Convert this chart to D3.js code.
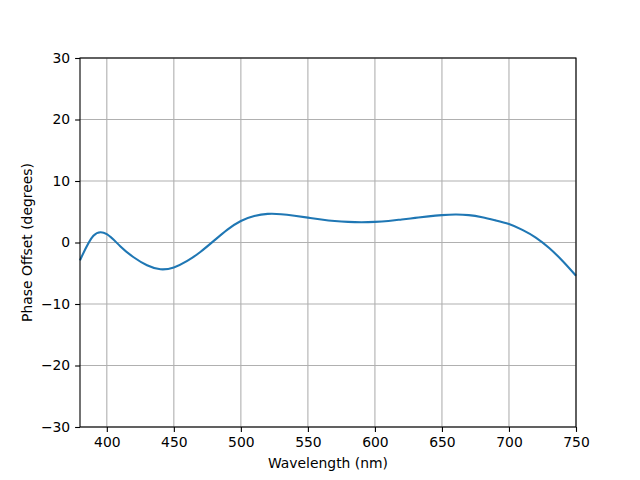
<!DOCTYPE html>
<html>
<head>
<meta charset="utf-8">
<script src="https://cdn.jsdelivr.net/npm/d3@7"></script>
<style>
  body { margin: 0; background: #fff; }
  text { font-family: "DejaVu Sans", sans-serif; }
</style>
</head>
<body>
<div id="chart"></div>
<script>
// wavelength (nm) and phase offset (degrees)
var wavelength = [380, 390, 400, 410, 420, 430, 440, 450, 460, 470, 480, 490,
                  500, 510, 520, 530, 540, 550, 560, 570, 580, 590, 600, 610, 620, 630,
                  640, 650, 660, 670, 680, 690, 700, 710, 720, 730, 740, 750];
var phase = [-2.9, 1.1, 1.35, -0.6, -2.4, -3.7, -4.35, -4.05, -3.0, -1.5, 0.3, 2.1,
             3.5, 4.3, 4.65, 4.6, 4.35, 4.05, 3.75, 3.5, 3.35, 3.3, 3.35, 3.5, 3.75, 4.0,
             4.25, 4.45, 4.55, 4.45, 4.1, 3.6, 3.0, 2.05, 0.8, -0.9, -3.0, -5.4];
var xTicks = [400, 450, 500, 550, 600, 650, 700, 750];
var yTicks = [-30, -20, -10, 0, 10, 20, 30];

var width = 640,
    height = 480;
var margin = {top: 58, right: 64, bottom: 53, left: 80};

var svg = d3.select('#chart').append('svg')
    .attr('width', width)
    .attr('height', height);

var x = d3.scaleLinear()
    .domain([380, 750])
    .range([margin.left, width - margin.right]);
var y = d3.scaleLinear()
    .domain([-30, 30])
    .range([height - margin.bottom, margin.top]);

// grid
svg.append('g').selectAll('line')
    .data(xTicks)
    .enter().append('line')
    .attr('x1', d => x(d)).attr('x2', d => x(d))
    .attr('y1', y(-30)).attr('y2', y(30))
    .style('stroke', '#b0b0b0')
    .style('stroke-width', 1.1);
svg.append('g').selectAll('line')
    .data(yTicks)
    .enter().append('line')
    .attr('x1', x(380)).attr('x2', x(750))
    .attr('y1', d => y(d)).attr('y2', d => y(d))
    .style('stroke', '#b0b0b0')
    .style('stroke-width', 1.1);

// curve
var data = wavelength.map((w, i) => [w, phase[i]]);
var line = d3.line()
    .x(d => x(d[0]))
    .y(d => y(d[1]))
    .curve(d3.curveNatural);

svg.append('path')
    .datum(data)
    .attr('d', line)
    .style('fill', 'none')
    .style('stroke', '#1f77b4')
    .style('stroke-width', 2.1);

// axes
var xAxis = svg.append('g')
    .attr('transform', 'translate(0,' + (height - margin.bottom) + ')')
    .call(d3.axisBottom(x).tickValues(xTicks).tickSize(4.9).tickPadding(4.9));
var yAxis = svg.append('g')
    .attr('transform', 'translate(' + margin.left + ',0)')
    .call(d3.axisLeft(y).tickValues(yTicks).tickSize(4.9).tickPadding(4.9));

[xAxis, yAxis].forEach(function(a) {
    a.selectAll('text')
        .style('font-family', '"DejaVu Sans", sans-serif')
        .style('font-size', '13.9px')
        .style('fill', '#000');
    a.selectAll('line').style('stroke', '#000').style('stroke-width', 1.1);
    a.select('.domain').remove();
});

// frame
svg.append('rect')
    .attr('x', x(380))
    .attr('y', y(30))
    .attr('width', x(750) - x(380))
    .attr('height', y(-30) - y(30))
    .style('fill', 'none')
    .style('stroke', '#000')
    .style('stroke-width', 1.1);

// labels
svg.append('text')
    .attr('x', (x(380) + x(750)) / 2)
    .attr('y', 468)
    .attr('text-anchor', 'middle')
    .style('font-size', '13.9px')
    .text('Wavelength (nm)');

svg.append('text')
    .attr('transform', 'translate(32,' + ((y(-30) + y(30)) / 2) + ') rotate(-90)')
    .attr('text-anchor', 'middle')
    .style('font-size', '13.9px')
    .text('Phase Offset (degrees)');
</script>
</body>
</html>
